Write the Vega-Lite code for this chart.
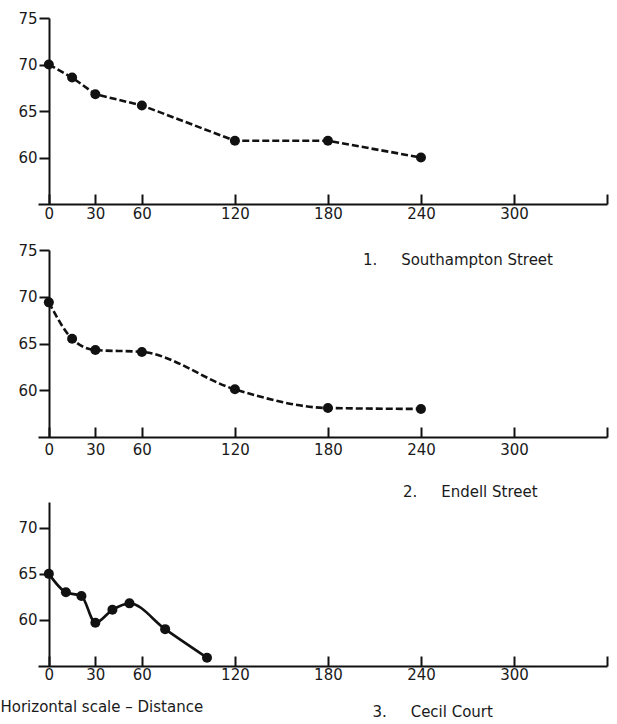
{
  "$schema": "https://vega.github.io/schema/vega-lite/v6.json",
  "padding": {"left": 0, "top": 11, "right": 6, "bottom": 2},
  "background": "white",
  "spacing": 22,
  "config": {
    "view": {"stroke": null},
    "font": "DejaVu Sans",
    "axis": {
      "labelFont": "DejaVu Sans", "labelFontSize": 15, "labelColor": "#1a1a1a",
      "domainColor": "#111111", "tickColor": "#111111", "domainWidth": 2, "tickWidth": 2,
      "grid": false, "titleFont": "DejaVu Sans", "titleFontWeight": "normal",
      "titleColor": "#1a1a1a", "titleFontSize": 15, "labelFlush": false
    },
    "title": {"font": "DejaVu Sans", "fontWeight": "normal", "fontSize": 15, "color": "#1a1a1a"}
  },
  "datasets": {
    "south": [
      {"distance": 0, "level": 70.0}, {"distance": 15, "level": 68.6}, {"distance": 30, "level": 66.8},
      {"distance": 60, "level": 65.6}, {"distance": 120, "level": 61.8}, {"distance": 180, "level": 61.8},
      {"distance": 240, "level": 60.0}
    ],
    "endell": [
      {"distance": 0, "level": 69.4}, {"distance": 15, "level": 65.5}, {"distance": 30, "level": 64.3},
      {"distance": 60, "level": 64.1}, {"distance": 120, "level": 60.1}, {"distance": 180, "level": 58.1},
      {"distance": 240, "level": 58.0}
    ],
    "cecil": [
      {"distance": 0, "level": 65.0}, {"distance": 11, "level": 63.0}, {"distance": 21, "level": 62.6},
      {"distance": 30, "level": 59.7}, {"distance": 41, "level": 61.1}, {"distance": 52, "level": 61.8},
      {"distance": 75, "level": 59.0}, {"distance": 102, "level": 55.9}
    ]
  },
  "vconcat": [
    {
      "width": 569, "height": 186,
      "data": {"name": "south"},
      "encoding": {
        "x": {"field": "distance", "type": "quantitative",
          "scale": {"domain": [-7, 360], "nice": false, "zero": false},
          "axis": {"values": [0, 30, 60, 120, 180, 240, 300, 360], "labelExpr": "datum.value == 360 ? '' : datum.label",
            "tickSize": -10, "labelPadding": 12, "title": null}},
        "y": {"field": "level", "type": "quantitative",
          "scale": {"domain": [55, 75], "nice": false, "zero": false},
          "axis": {"values": [60, 65, 70, 75], "tickSize": 10, "labelPadding": 2, "offset": -11, "title": null}}
      },
      "layer": [
        {"mark": {"type": "line", "color": "#111111", "strokeWidth": 2.6, "strokeDash": [7, 3]}},
        {"mark": {"type": "point", "filled": true, "color": "#111111", "size": 100, "opacity": 1}}
      ]
    },
    {
      "width": 569, "height": 187,
      "data": {"name": "endell"},
      "title": {"text": "1.\u00a0\u00a0\u00a0\u00a0\u00a0Southampton Street", "orient": "top", "anchor": "start", "frame": "group", "offset": -25, "dx": 325},
      "encoding": {
        "x": {"field": "distance", "type": "quantitative",
          "scale": {"domain": [-7, 360], "nice": false, "zero": false},
          "axis": {"values": [0, 30, 60, 120, 180, 240, 300, 360], "labelExpr": "datum.value == 360 ? '' : datum.label",
            "tickSize": -10, "labelPadding": 15,
            "title": "\u00a0", "titleX": 0, "titleY": 18, "titleAlign": "left", "titleBaseline": "middle"}},
        "y": {"field": "level", "type": "quantitative",
          "scale": {"domain": [55, 75], "nice": false, "zero": false},
          "axis": {"values": [60, 65, 70, 75], "tickSize": 10, "labelPadding": 2, "offset": -11, "title": null}}
      },
      "layer": [
        {"mark": {"type": "line", "color": "#111111", "strokeWidth": 2.6, "strokeDash": [7, 3], "interpolate": "monotone"}},
        {"mark": {"type": "point", "filled": true, "color": "#111111", "size": 100, "opacity": 1}}
      ]
    },
    {
      "width": 569, "height": 164,
      "data": {"name": "cecil"},
      "title": {"text": "2.\u00a0\u00a0\u00a0\u00a0\u00a0Endell Street", "orient": "top", "anchor": "start", "frame": "group", "offset": 2, "dx": 365},
      "encoding": {
        "x": {"field": "distance", "type": "quantitative",
          "scale": {"domain": [-7, 360], "nice": false, "zero": false},
          "axis": {"values": [0, 30, 60, 120, 180, 240, 300, 360], "labelExpr": "datum.value == 360 ? '' : datum.label",
            "tickSize": -10, "labelPadding": 11,
            "title": "3.\u00a0\u00a0\u00a0\u00a0\u00a0Cecil Court", "titleX": 334, "titleY": 45, "titleAlign": "left", "titleBaseline": "middle"}},
        "y": {"field": "level", "type": "quantitative",
          "scale": {"domain": [55, 72.8], "nice": false, "zero": false},
          "axis": {"values": [60, 65, 70], "tickSize": 10, "labelPadding": 2, "offset": -11,
            "title": "Horizontal scale \u2013 Distance", "titleAngle": 0, "titleX": -49, "titleY": 204,
            "titleAlign": "left", "titleBaseline": "middle"}}
      },
      "layer": [
        {"mark": {"type": "line", "color": "#111111", "strokeWidth": 2.6, "interpolate": "monotone"}},
        {"mark": {"type": "point", "filled": true, "color": "#111111", "size": 100, "opacity": 1}}
      ]
    }
  ]
}
